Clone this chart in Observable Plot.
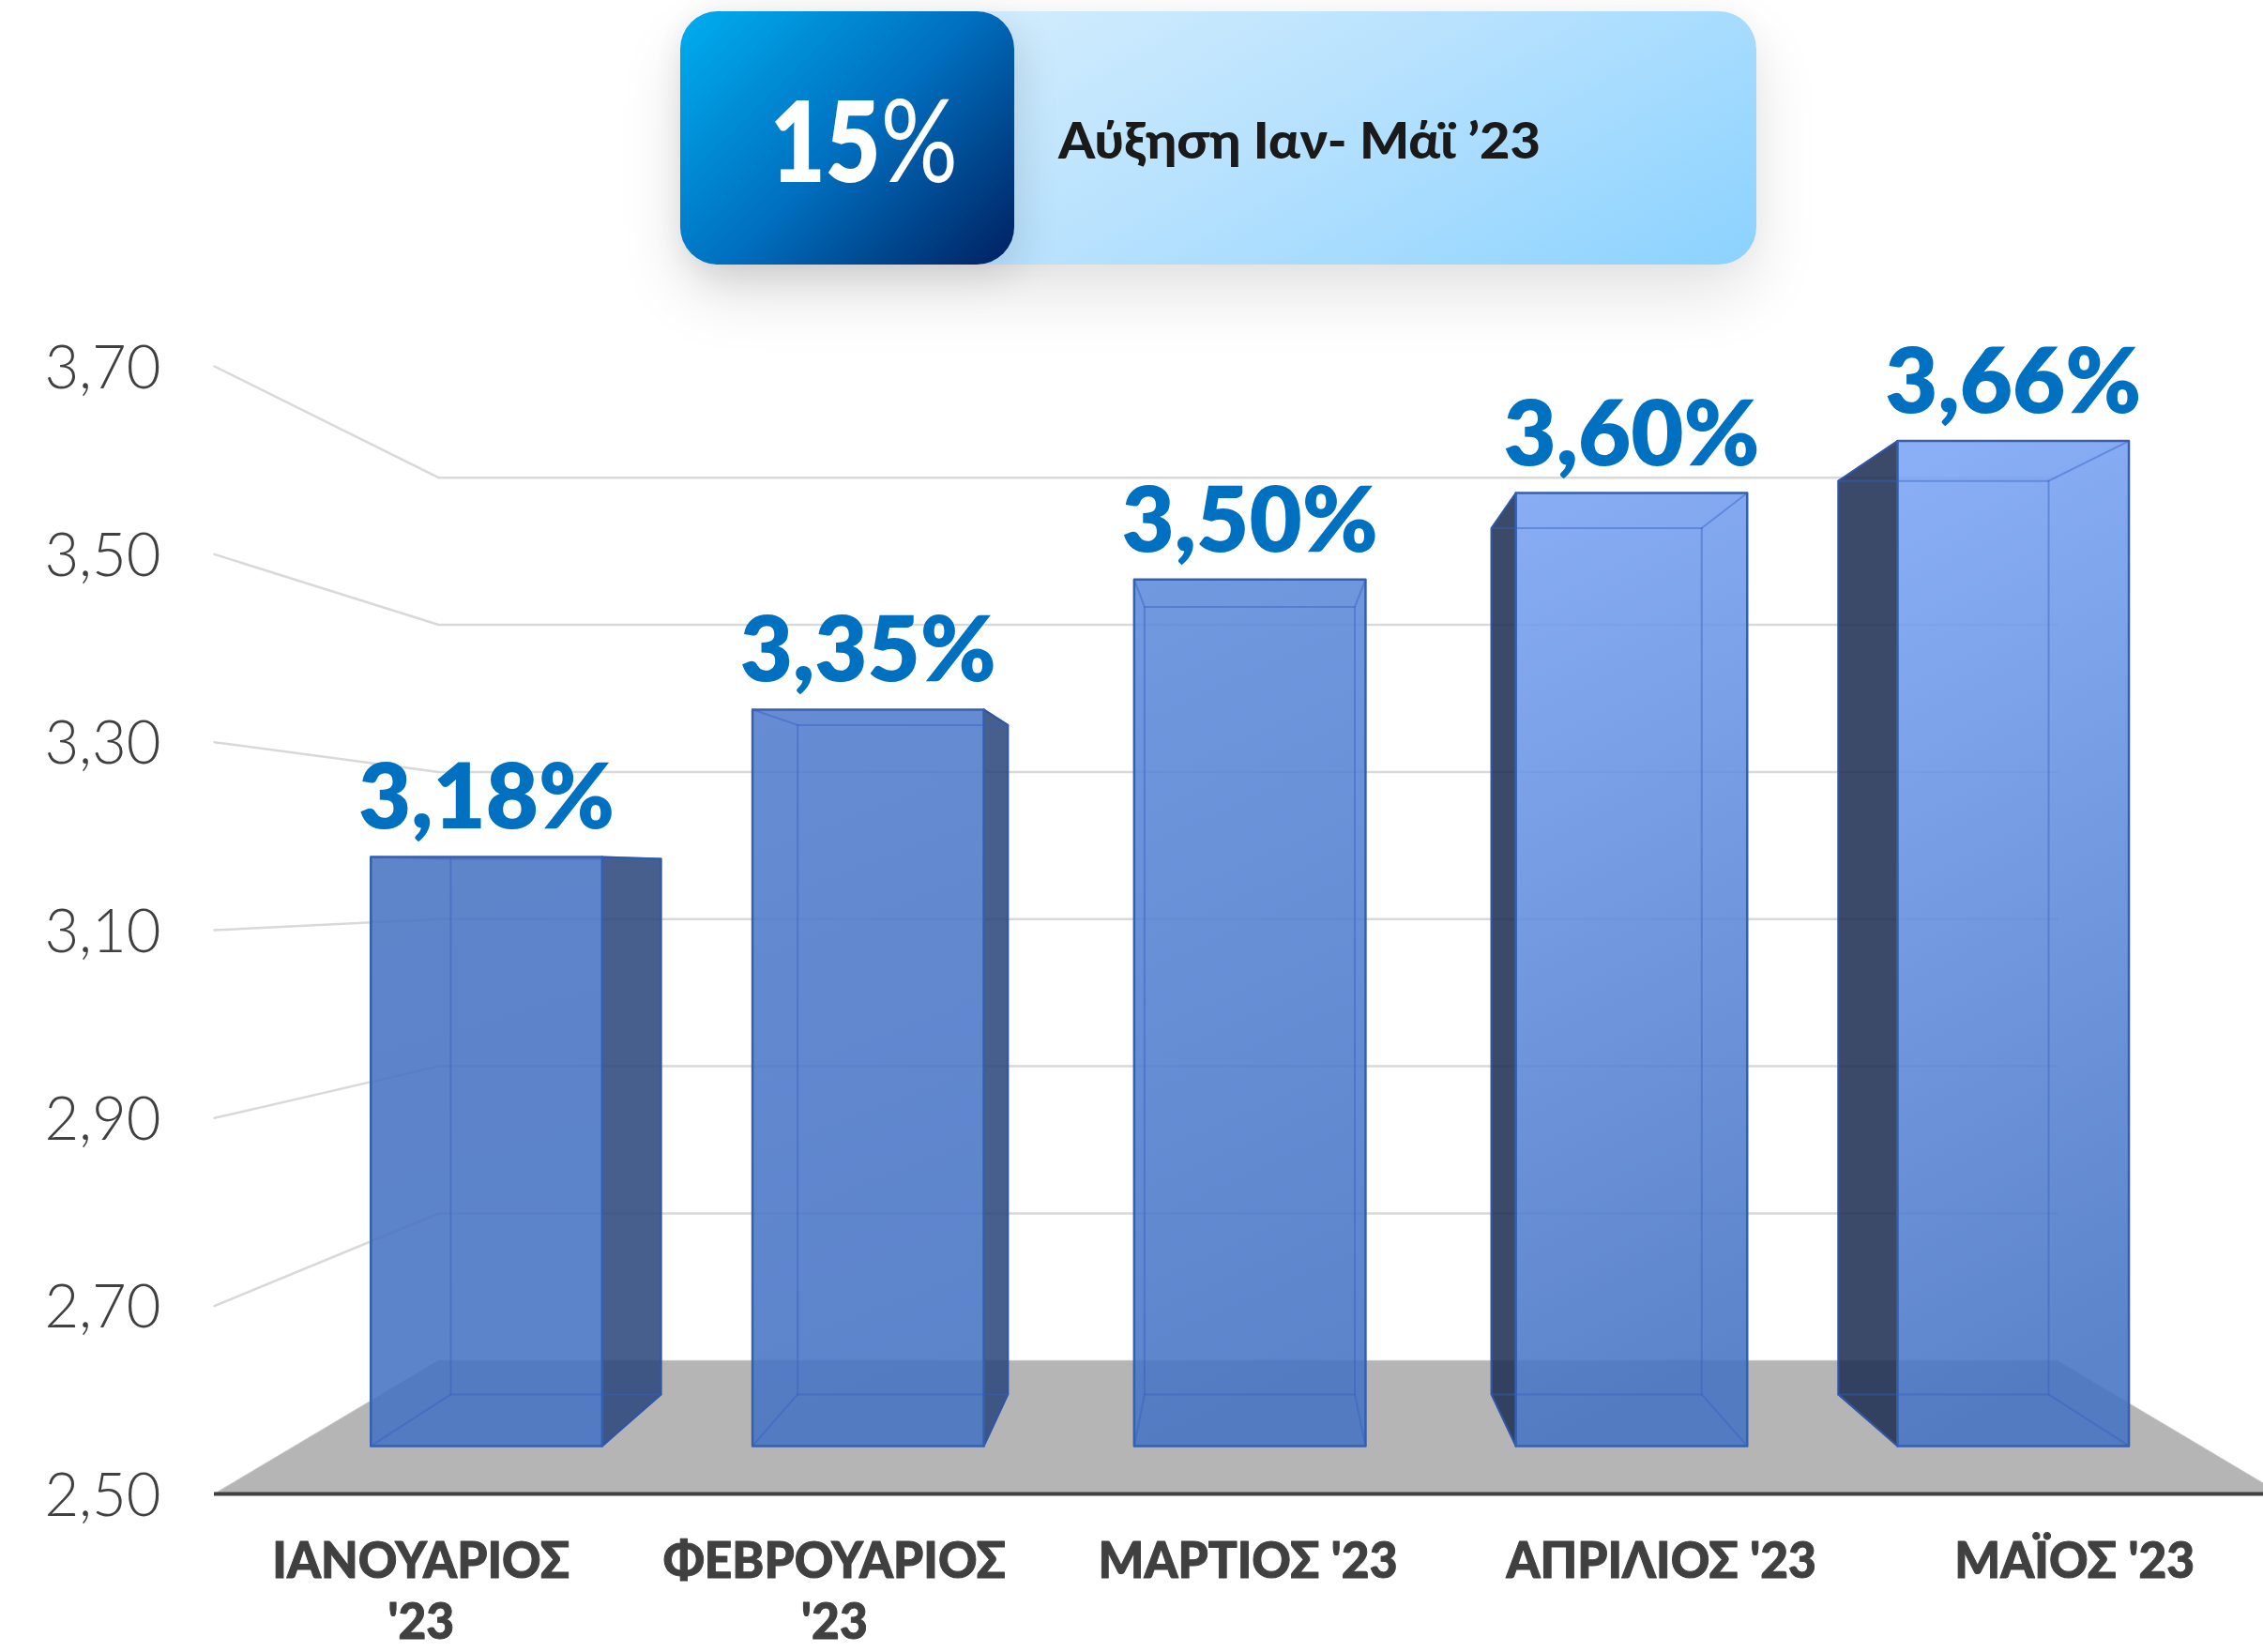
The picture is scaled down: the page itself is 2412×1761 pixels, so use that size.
<!DOCTYPE html>
<html lang="el">
<head>
<meta charset="utf-8">
<script src="https://cdn.jsdelivr.net/npm/d3@7"></script>
<script src="https://cdn.jsdelivr.net/npm/@observablehq/plot@0.6"></script>
<style>
html,body{margin:0;padding:0;background:#fff;overflow:hidden;width:2412px;height:1761px}
#header{position:relative;height:340px;width:2412px}
#card{position:absolute;left:725px;top:12px;width:1147px;height:270px;border-radius:40px;
  background:linear-gradient(150deg,#d6eefd 15%,#b6e1fe 55%,#8bd2ff 100%);
  box-shadow:0 32px 70px rgba(0,0,0,.11),0 0 34px rgba(0,0,0,.035)}
#pill{position:absolute;left:0;top:0;width:356px;height:270px;border-radius:40px;
  background:linear-gradient(135deg,#00aeef 0%,#0070c0 50%,#002060 100%);
  box-shadow:10px 14px 40px rgba(0,0,0,.1)}
#num{position:absolute;left:96px;top:70px;color:#fff;font:800 120px/130px Lato,sans-serif;white-space:nowrap;transform-origin:0 50%}
#num span{font-weight:400;font-size:122px;}
#cap{position:absolute;left:403px;top:102px;color:#1a1a1a;font:900 53px/70px Lato,"Open Sans",sans-serif;white-space:nowrap;transform-origin:0 50%}
#chart{position:relative}
#chart svg{background:transparent;overflow:visible;display:block}
</style>
</head>
<body>
<div id="header">
  <div id="card">
    <div id="pill"><div id="num">15<span>%</span></div></div>
    <div id="cap">Αύξηση Ιαν- Μάϊ ’23</div>
  </div>
</div>
<div id="chart"></div>
<script>
const categories = ["ΙΑΝΟΥΑΡΙΟΣ\n'23", "ΦΕΒΡΟΥΑΡΙΟΣ\n'23", "ΜΑΡΤΙΟΣ '23", "ΑΠΡΊΛΙΟΣ '23", "ΜΆΪΟΣ '23"];
const values = [3.18, 3.35, 3.50, 3.60, 3.66];
const axisTicks = [2.5, 2.7, 2.9, 3.1, 3.3, 3.5, 3.7];
const topColors = ["#4873c3", "#517ccd", "#5d8bdc", "#78a2f3", "#7ba5f6"];
const sideColors = ["#2a477b", "#2a477b", null, "#1d2f51", "#1d2f51"];

const comma = (v, digits = 2) => v.toFixed(digits).replace(".", ",");

// Perspective of the 3D chart: every point is (slot, value, depth), depth 1 = front wall plane.
const vanish = {x: 2.5, y: 3.154};
const depthBack = 0.783, barFront = 0.922, barBack = 0.838, halfBar = 0.3035;
const pt = (x, v, s) => ({x: vanish.x + s * (x - vanish.x), y: vanish.y + s * (v - vanish.y)});
const base = axisTicks[0];
const slots = categories.length;

const box = values.map((v, i) => {
  const c = i + 0.5025 + i * 0.0014, l = c - halfBar, r = c + halfBar;
  return {
    front: [pt(l, base, barFront), pt(r, base, barFront), pt(r, v, barFront), pt(l, v, barFront)],
    back: [pt(l, base, barBack), pt(r, base, barBack), pt(r, v, barBack), pt(l, v, barBack)],
    i, v, center: pt(c, v, barFront),
    labelV: Math.max(pt(l, v, barFront).y, pt(l, v, barBack).y)
  };
});
const side = box.map(b => b.i < 2 ? [b.front[1], b.back[1], b.back[2], b.front[2]]
                                   : [b.front[0], b.back[0], b.back[3], b.front[3]]);
const edges = box.flatMap(b => b.front.map((p, k) => ({k: `${b.i}-${k}`, a: p, b: b.back[k]})))
  .flatMap(e => [{...e.a, k: e.k}, {...e.b, k: e.k}]);
const floor = [pt(0, base, 1), pt(slots, base, 1), pt(slots, base, depthBack), pt(0, base, depthBack)];
const grid = axisTicks.slice(1).flatMap(v => [
  {...pt(0, v, 1), v}, {...pt(0, v, depthBack), v}, {...pt(slots, v, depthBack), v}
]);

const LATO = "Lato, 'Open Sans', sans-serif";
const defs = () => {
  const d = d3.create("svg:defs");
  topColors.forEach((c, i) => {
    const g = d.append("linearGradient").attr("id", `g${i}`).attr("x1", 0).attr("y1", 0).attr("x2", 0.12).attr("y2", 1);
    g.append("stop").attr("offset", 0).attr("stop-color", c);
    g.append("stop").attr("offset", 1).attr("stop-color", "#4573c4");
  });
  return d.node();
};

const chart = Plot.plot({
  width: 2412, height: 1421,
  marginLeft: 228, marginRight: 0, marginTop: 50, marginBottom: 169,
  x: {type: "linear", domain: [0, slots], range: [228, 2431], axis: null},
  y: {type: "linear", domain: [axisTicks[0], axisTicks[axisTicks.length - 1]], range: [1252, 50], label: null},
  marks: [
    defs,
    Plot.line(floor, {x: "x", y: "y", curve: "linear-closed", fill: "#b5b5b5", stroke: "#c4c4c4", strokeWidth: 1}),
    Plot.line(grid, {x: "x", y: "y", z: "v", stroke: "#d9d9d9", strokeWidth: 2.5}),
    Plot.ruleY([base], {stroke: "#404040", strokeWidth: 4}),
    Plot.axisY({ticks: axisTicks, tickSize: 0, tickPadding: 57, dy: 2, tickFormat: d => comma(d), fontSize: 66,
      fontFamily: LATO, fontWeight: 300, fill: "#404040", label: null}),
    ...box.map((b, i) => sideColors[i] ? Plot.line(side[i], {x: "x", y: "y", curve: "linear-closed",
        fill: sideColors[i], fillOpacity: 0.87, stroke: "#2f4f8f", strokeWidth: 2}) : null),
    ...box.map((b, i) => Plot.line(b.front, {x: "x", y: "y", curve: "linear-closed", fill: `url(#g${i})`, fillOpacity: 0.88,
        stroke: "#3560ae", strokeWidth: 2.5})),
    ...box.map(b => Plot.line(b.back, {x: "x", y: "y", curve: "linear-closed", fill: "none", stroke: "#3560c0", strokeOpacity: .45, strokeWidth: 2})),
    Plot.line(edges, {x: "x", y: "y", z: "k", stroke: "#3560c0", strokeOpacity: .45, strokeWidth: 2}),
    Plot.text(box, {x: d => d.center.x, y: "labelV", text: d => comma(d.v) + "%", dy: -30, lineAnchor: "bottom",
      fontSize: 97, fontWeight: 800, fontFamily: LATO, fill: "#0070c0"}),
    Plot.text(categories, {x: (d, i) => i + 0.5, y: () => base, text: d => d, dy: 43, lineAnchor: "top", lineHeight: 1.226,
      fontSize: 53, fontWeight: 900, fontFamily: LATO, fill: "#404040", stroke: "#404040", strokeWidth: 1})
  ]
});
document.getElementById("chart").append(chart);

// Horizontal condensing, to match the narrow face of the original.
const squeeze = (size, factor) => chart.querySelectorAll(`g[font-size="${size}"] text`).forEach(t => {
  const lines = t.querySelectorAll("tspan");
  (lines.length ? [...lines] : [t]).forEach(el => {
    el.setAttribute("lengthAdjust", "spacingAndGlyphs");
    el.setAttribute("textLength", el.getComputedTextLength() * factor);
  });
});
squeeze(53, 0.97);
squeeze(66, 0.96);
const fit = (id, width) => {
  const el = document.getElementById(id);
  el.style.transform = `scaleX(${width / el.getBoundingClientRect().width})`;
};
fit("num", 200);
fit("cap", 514);
</script>
</body>
</html>
